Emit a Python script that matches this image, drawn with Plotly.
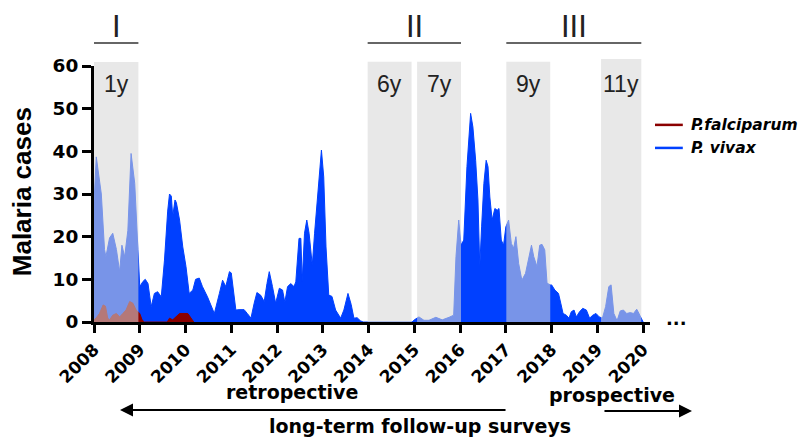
import plotly.graph_objects as go

# ---------------- data ----------------
vivax_year = [2008.00, 2008.05, 2008.16, 2008.23, 2008.26, 2008.34, 2008.41, 2008.49, 2008.56, 2008.61,
              2008.67, 2008.74, 2008.81, 2008.89, 2008.96, 2009.00, 2009.07, 2009.12, 2009.18, 2009.25,
              2009.32, 2009.39, 2009.47, 2009.54, 2009.61, 2009.65, 2009.69, 2009.72, 2009.77, 2009.80,
              2009.87, 2009.94, 2010.01, 2010.08, 2010.16, 2010.22, 2010.30, 2010.37, 2010.48, 2010.63,
              2010.74, 2010.81, 2010.88, 2010.96, 2011.00, 2011.07, 2011.10, 2011.17, 2011.28, 2011.35,
              2011.43, 2011.50, 2011.56, 2011.64, 2011.72, 2011.78, 2011.83, 2011.90, 2011.97, 2012.05,
              2012.12, 2012.17, 2012.23, 2012.30, 2012.37, 2012.41, 2012.44, 2012.48, 2012.52, 2012.55,
              2012.60, 2012.65, 2012.70, 2012.77, 2012.82, 2012.90, 2012.97, 2013.02, 2013.07, 2013.13,
              2013.20, 2013.28, 2013.39, 2013.46, 2013.55, 2013.62, 2013.68, 2013.75, 2013.82, 2013.88,
              2014.95, 2015.00, 2015.10, 2015.21, 2015.32, 2015.47, 2015.61, 2015.76, 2015.86, 2015.91,
              2015.97, 2016.02, 2016.08, 2016.15, 2016.19, 2016.23, 2016.28, 2016.34, 2016.39, 2016.43,
              2016.47, 2016.52, 2016.57, 2016.61, 2016.65, 2016.70, 2016.76, 2016.81, 2016.85, 2016.90,
              2016.95, 2017.00, 2017.06, 2017.12, 2017.17, 2017.22, 2017.28, 2017.35, 2017.43, 2017.50,
              2017.56, 2017.61, 2017.68, 2017.74, 2017.79, 2017.85, 2017.90, 2017.97, 2018.00, 2018.07,
              2018.15, 2018.20, 2018.25, 2018.32, 2018.38, 2018.43, 2018.49, 2018.54, 2018.61, 2018.68,
              2018.76, 2018.83, 2018.90, 2018.97, 2019.04, 2019.11, 2019.18, 2019.25, 2019.30, 2019.36,
              2019.43, 2019.50, 2019.57, 2019.64, 2019.72, 2019.79, 2019.86, 2019.89, 2019.97, 2020.00]
vivax_cases = [28, 38.7, 30, 17, 15.3, 19.7, 20.8, 17, 11.8, 18,
               15.3, 21.5, 39.5, 32.5, 17, 8.3, 9.5, 10, 9, 3.6,
               6.7, 7.1, 5.9, 14.5, 26, 30, 29.5, 24.7, 28.6, 28,
               23.9, 17.6, 13, 6.7, 7.5, 10, 10.3, 8.3, 5.9, 2,
               6.7, 9.8, 8.3, 11.8, 11.5, 4.4, 2.8, 2.9, 2.9, 2,
               0.9, 4.4, 6.9, 6.3, 4.8, 9, 11.8, 8.3, 4.4, 7.9,
               7.5, 4.6, 8.3, 9, 8.3, 9.4, 14.5, 19.6, 19.6, 9.6,
               20.8, 23.9, 20.8, 13.3, 20.8, 31.7, 40.3, 34, 17.6, 6.3,
               6, 2.8, 0.9, 2.8, 6.7, 4.1, 0.9, 1, 0.3, 0,
               0, 0.5, 1.2, 0.4, 0.4, 1.1, 0.5, 1.1, 1.6, 15.3,
               23.9, 18, 19.2, 36.4, 44.2, 48.9, 45.7, 37.9, 28.6, 13,
               22.3, 32.5, 37.9, 36.4, 29.3, 23.9, 26.6, 26.2, 26.6, 19.2,
               18, 22.3, 23.9, 18.4, 17.3, 20, 13.7, 9.8, 11.4, 15.3,
               18, 15.3, 13, 18, 18.2, 16.9, 9.1, 8.7, 8.7, 7.5,
               6.7, 4.4, 2, 1.6, 0.9, 2.4, 2.8, 1.2, 2.4, 3.2,
               2.8, 0.9, 1.6, 2, 1.2, 0.9, 3.6, 8.3, 8.7, 2,
               0.3, 2.6, 2.8, 2, 2.2, 2, 3, 2.4, 0.5, 0]

falc_year = [2008.00, 2008.05, 2008.12, 2008.20, 2008.25, 2008.30, 2008.34, 2008.41, 2008.49, 2008.56,
             2008.63, 2008.70, 2008.78, 2008.85, 2008.92, 2009.00, 2009.05, 2009.10, 2009.60, 2009.65,
             2009.72, 2009.79, 2009.87, 2010.05, 2010.12, 2010.18]
falc_cases = [0.5, 1, 2, 4, 3.7, 0.9, 0.5, 1.6, 2, 1.2,
              2, 2.8, 4.8, 4.4, 2.8, 2, 0.5, 0, 0, 0.9,
              0.5, 1.2, 2, 2, 0.9, 0]

year_ticks = list(range(2008, 2021))
y_ticks = [0, 10, 20, 30, 40, 50, 60]

survey_labels = ["1y", "6y", "7y", "9y", "11y"]
survey_start = [2008.00, 2013.98, 2015.06, 2017.01, 2019.08]
survey_end = [2008.97, 2014.94, 2016.02, 2017.97, 2019.96]
survey_top = [1.016, 1.017, 1.017, 1.017, 1.027]

phase_labels = ["I", "II", "III"]
phase_start = [2008.00, 2013.98, 2017.01]
phase_end = [2008.97, 2016.02, 2019.96]

series_names = ["P.falciparum", "P. vivax"]

BLUE = "#0040ff"
RED = "#8b0000"
BOLD = "DejaVu Sans"
ARIAL = "Liberation Sans"
series_colors = [RED, BLUE]

fig = go.Figure()
fig.add_trace(go.Scatter(x=vivax_year, y=vivax_cases, mode="lines", fill="tozeroy",
                         line=dict(color=BLUE, width=1), fillcolor=BLUE, showlegend=False,
                         name=series_names[1], hoverinfo="skip"))
fig.add_trace(go.Scatter(x=falc_year, y=falc_cases, mode="lines", fill="tozeroy",
                         line=dict(color=RED, width=1), fillcolor=RED, showlegend=False,
                         name=series_names[0], hoverinfo="skip"))

shapes = []
annotations = []
for lab, s, e, top in zip(survey_labels, survey_start, survey_end, survey_top):
    shapes.append(dict(type="rect", xref="x", yref="paper", x0=s, x1=e, y0=0, y1=top,
                       fillcolor="rgba(214,214,214,0.56)", line=dict(width=0), layer="above"))
    annotations.append(dict(x=(s + e) / 2, y=0.93, xref="x", yref="paper", text=lab,
                            xanchor="center", yanchor="middle",
                            showarrow=False, font=dict(family=ARIAL, size=23, color="#222222")))
for lab, s, e in zip(phase_labels, phase_start, phase_end):
    shapes.append(dict(type="line", xref="x", yref="paper", x0=s, x1=e, y0=1.09, y1=1.09,
                       line=dict(color="#333333", width=1.5)))
    annotations.append(dict(x=(s + e) / 2, y=1.155, xref="x", yref="paper", text=lab,
                            xanchor="center", yanchor="middle",
                            showarrow=False, font=dict(family=ARIAL, size=31, color="#222222")))

# legend (drawn as line + label so it does not push the plot margins)
for i, (nm, col) in enumerate(zip(series_names, series_colors)):
    ly = 0.770 - i * 0.090
    shapes.append(dict(type="line", xref="paper", yref="paper", x0=1.009, x1=1.059,
                       y0=ly, y1=ly, line=dict(color=col, width=2.5)))
    annotations.append(dict(x=1.071, y=ly, xref="paper", yref="paper",
                            text=f"<b><i>{nm}</i></b>", xanchor="left", yanchor="middle",
                            showarrow=False, font=dict(family=BOLD, size=15.5, color="black")))

annotations += [
    dict(x=-0.129, y=0.508, xref="paper", yref="paper", text="<b>Malaria cases</b>",
         xanchor="center", yanchor="middle",
         textangle=-90, showarrow=False, font=dict(family=ARIAL, size=26, color="black")),
    dict(x=0.356, y=-0.273, xref="paper", yref="paper", text="<b>retropective</b>",
         xanchor="center", yanchor="middle",
         showarrow=False, font=dict(family=BOLD, size=19, color="black")),
    dict(x=0.932, y=-0.285, xref="paper", yref="paper", text="<b>prospective</b>",
         xanchor="center", yanchor="middle",
         showarrow=False, font=dict(family=BOLD, size=19, color="black")),
    dict(x=0.586, y=-0.406, xref="paper", yref="paper", text="<b>long-term follow-up surveys</b>",
         xanchor="center", yanchor="middle",
         showarrow=False, font=dict(family=BOLD, size=19, color="black")),
    dict(x=1.047, y=0.012, xref="paper", yref="paper", text="<b>...</b>",
         xanchor="center", yanchor="middle",
         showarrow=False, font=dict(family=BOLD, size=18, color="black")),
    dict(x=0.0468, y=-0.344, xref="paper", yref="paper", text="", showarrow=True,
         ax=387, ay=0, arrowhead=2, arrowsize=1.3, arrowwidth=2, arrowcolor="black",
         standoff=0, startstandoff=0),
    dict(x=1.0755, y=-0.348, xref="paper", yref="paper", text="", showarrow=True,
         ax=-89, ay=0, arrowhead=2, arrowsize=1.3, arrowwidth=2, arrowcolor="black",
         standoff=0, startstandoff=0),
]

# page body has an 8px default margin: figure is 8px smaller so it fits the window
fig.update_layout(
    width=800, height=430,
    margin=dict(l=86, r=158, t=58, b=116),
    paper_bgcolor="white", plot_bgcolor="white",
    showlegend=False,
    shapes=shapes, annotations=annotations,
    xaxis=dict(range=[2008, 2020.15], tickmode="array", tickvals=year_ticks,
               ticktext=[f"<b>{y}</b>" for y in year_ticks], tickangle=-45,
               tickfont=dict(family=BOLD, size=17, color="black"),
               ticks="outside", ticklen=8, tickwidth=2.5, tickcolor="black",
               showline=True, linewidth=3, linecolor="black",
               showgrid=False, zeroline=False, automargin=False, fixedrange=True),
    yaxis=dict(range=[0, 60], tickmode="array", tickvals=y_ticks,
               ticktext=[f"<b>{v}</b>" for v in y_ticks],
               tickfont=dict(family=BOLD, size=18.5, color="black"),
               ticks="outside", ticklen=9, tickwidth=2.5, tickcolor="black",
               showline=True, linewidth=3, linecolor="black",
               showgrid=False, zeroline=False, automargin=False, fixedrange=True),
)

fig.write_html("out.html")
